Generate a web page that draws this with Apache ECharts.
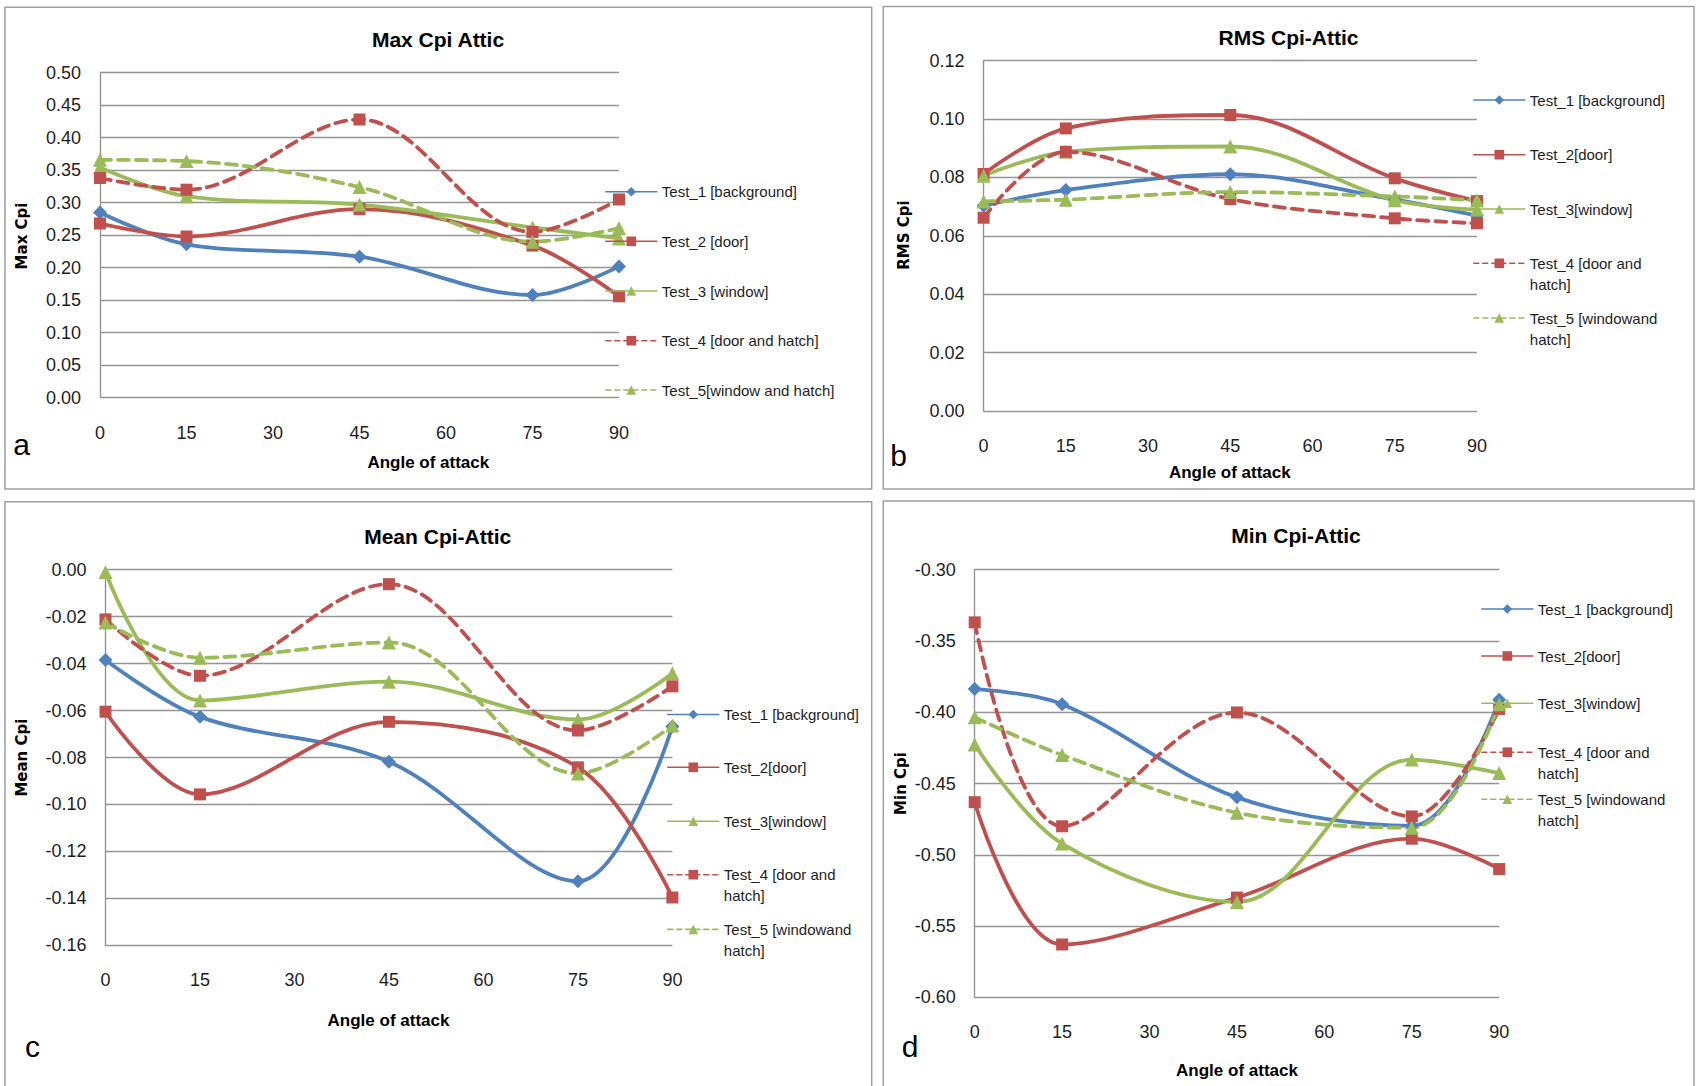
<!DOCTYPE html>
<html>
<head>
<meta charset="utf-8">
<script src="https://cdn.jsdelivr.net/npm/echarts@6/dist/echarts.min.js"></script>
<style>
  html, body { margin: 0; padding: 0; background: #ffffff; }
  #chart { width: 1696px; height: 1086px; }
</style>
</head>
<body>
<div id="chart"></div>
<script>
// Angles of attack where pressures were measured, and the axis ticks
const angles = [0, 15, 45, 75, 90];
const angleTicks = [0, 15, 30, 45, 60, 75, 90];

// (a) Max Cpi
const maxTicks = [0.00, 0.05, 0.10, 0.15, 0.20, 0.25, 0.30, 0.35, 0.40, 0.45, 0.50];
const maxTest1 = [0.285, 0.236, 0.217, 0.158, 0.202];
const maxTest2 = [0.268, 0.248, 0.290, 0.234, 0.156];
const maxTest3 = [0.354, 0.310, 0.297, 0.262, 0.245];
const maxTest4 = [0.338, 0.320, 0.428, 0.255, 0.305];
const maxTest5 = [0.366, 0.364, 0.324, 0.240, 0.261];

// (b) RMS Cpi
const rmsTicks = [0.00, 0.02, 0.04, 0.06, 0.08, 0.10, 0.12];
const rmsTest1 = [0.0703, 0.0757, 0.0811, 0.0724, 0.0669];
const rmsTest2 = [0.0812, 0.0968, 0.1014, 0.0797, 0.0719];
const rmsTest3 = [0.0806, 0.0888, 0.0906, 0.0722, 0.0690];
const rmsTest4 = [0.0662, 0.0888, 0.0726, 0.0660, 0.0643];
const rmsTest5 = [0.0718, 0.0724, 0.0750, 0.0735, 0.0722];

// (c) Mean Cpi
const meanTicks = [-0.16, -0.14, -0.12, -0.10, -0.08, -0.06, -0.04, -0.02, 0.00];
const meanTest1 = [-0.0385, -0.0627, -0.0818, -0.1327, -0.0668];
const meanTest2 = [-0.0605, -0.0957, -0.0648, -0.0842, -0.1396];
const meanTest3 = [-0.0010, -0.0557, -0.0477, -0.0638, -0.0441];
const meanTest4 = [-0.0212, -0.0452, -0.0062, -0.0685, -0.0497];
const meanTest5 = [-0.0225, -0.0375, -0.0310, -0.0868, -0.0664];

// (d) Min Cpi
const minTicks = [-0.60, -0.55, -0.50, -0.45, -0.40, -0.35, -0.30];
const minTest1 = [-0.3838, -0.3944, -0.4597, -0.4797, -0.3912];
const minTest2 = [-0.4631, -0.5629, -0.5300, -0.4887, -0.5100];
const minTest3 = [-0.4227, -0.4921, -0.5331, -0.4332, -0.4427];
const minTest4 = [-0.3370, -0.4800, -0.4002, -0.4731, -0.3977];
const minTest5 = [-0.4036, -0.4300, -0.4705, -0.4810, -0.3944];

// Legend names as printed on each panel
const namesA = ['Test_1 [background]', 'Test_2 [door]', 'Test_3 [window]', 'Test_4 [door and hatch]', 'Test_5[window and hatch]'];
const namesBCD = ['Test_1 [background]', 'Test_2[door]', 'Test_3[window]', 'Test_4 [door and\nhatch]', 'Test_5 [windowand\nhatch]'];

// ---- styling & layout ----
const LABEL_FONT = '"Liberation Sans", Arial, sans-serif';
const GRID_COLOR = '#959595';
const TEXT_COLOR = '#1e1e1e';
const BLUE = '#4F81BD', RED = '#C0504D', GREEN = '#9BBB59';
const DASH = [11, 7];

const seriesLook = [
  { symbol: 'diamond',  symbolSize: 14, color: BLUE,  type: 'solid' },
  { symbol: 'rect',     symbolSize: 12, color: RED,   type: 'solid' },
  { symbol: 'triangle', symbolSize: 14, color: GREEN, type: 'solid' },
  { symbol: 'rect',     symbolSize: 12, color: RED,   type: DASH },
  { symbol: 'triangle', symbolSize: 14, color: GREEN, type: DASH }
];

const panels = [
  { values: [maxTest1, maxTest2, maxTest3, maxTest4, maxTest5], ticks: maxTicks, names: namesA,
    grid: { left: 100, top: 72.7, width: 519, height: 325 },
    legendX: 605, legendY: [192.7, 242.3, 292, 341.7, 391] },
  { values: [rmsTest1, rmsTest2, rmsTest3, rmsTest4, rmsTest5], ticks: rmsTicks, names: namesBCD,
    grid: { left: 983.6, top: 60.7, width: 493.4, height: 350.3 },
    legendX: 1473, legendY: [101, 155.7, 210, 264.3, 319] },
  { values: [meanTest1, meanTest2, meanTest3, meanTest4, meanTest5], ticks: meanTicks, names: namesBCD,
    grid: { left: 105.5, top: 569.6, width: 566.9, height: 375.8 },
    legendX: 667, legendY: [715.5, 768.3, 822.2, 875.7, 930.4] },
  { values: [minTest1, minTest2, minTest3, minTest4, minTest5], ticks: minTicks, names: namesBCD,
    grid: { left: 974.7, top: 569.6, width: 524.5, height: 427.8 },
    legendX: 1481, legendY: [610, 657, 704.2, 753.2, 800.3] }
];

const grids = [], xAxes = [], yAxes = [], series = [], legends = [];

panels.forEach((p, pi) => {
  grids.push(Object.assign({ containLabel: false }, p.grid));
  xAxes.push({
    type: 'value', gridIndex: pi,
    min: angleTicks[0], max: angleTicks[angleTicks.length - 1],
    interval: angleTicks[1] - angleTicks[0],
    axisLine: { show: false }, axisTick: { show: false }, splitLine: { show: false },
    axisLabel: { margin: 26, fontSize: 18, fontFamily: LABEL_FONT, color: TEXT_COLOR }
  });
  yAxes.push({
    type: 'value', gridIndex: pi,
    min: p.ticks[0], max: p.ticks[p.ticks.length - 1],
    interval: +(p.ticks[1] - p.ticks[0]).toFixed(4),
    axisLine: { show: true, onZero: false, lineStyle: { color: GRID_COLOR, width: 1.4 } },
    axisTick: { show: false },
    splitLine: { show: true, lineStyle: { color: GRID_COLOR, width: 1.4 } },
    axisLabel: { margin: 19, fontSize: 18, fontFamily: LABEL_FONT, color: TEXT_COLOR,
                 formatter: v => v.toFixed(2) }
  });
  p.values.forEach((vals, si) => {
    const look = seriesLook[si];
    series.push({
      type: 'line', name: p.names[si], xAxisIndex: pi, yAxisIndex: pi,
      data: angles.map((a, k) => [a, vals[k]]),
      smooth: 0.35,
      symbol: look.symbol, symbolSize: look.symbolSize,
      color: look.color,
      itemStyle: { color: look.color },
      lineStyle: { color: look.color, width: 3.8, type: look.type, cap: 'round' },
      emphasis: { disabled: true },
      animation: false
    });
    // Wrapped names get an empty first line so the icon sits beside the first printed line
    const twoLine = p.names[si].indexOf('\n') >= 0;
    legends.push({
      data: [p.names[si]],
      orient: 'vertical',
      left: p.legendX,
      top: twoLine ? p.legendY[si] - 32.5 : p.legendY[si] - 8.5,
      padding: 0,
      itemWidth: 51, itemHeight: 12,
      selectedMode: false,
      formatter: name => (name.indexOf('\n') >= 0 ? '\n' + name : name),
      lineStyle: { width: 1.6, type: look.type === 'solid' ? 'solid' : [5, 4] },
      textStyle: twoLine
        ? { fontSize: 15, fontFamily: LABEL_FONT, color: TEXT_COLOR, lineHeight: 21 }
        : { fontSize: 15, fontFamily: LABEL_FONT, color: TEXT_COLOR, lineHeight: 12 }
    });
  });
});

// Frames, titles, axis names and panel letters
function label(x, y, text, font, rotation) {
  return { type: 'text', x: x, y: y, rotation: rotation || 0, silent: true,
           style: { text: text, font: font, fill: '#000', align: 'center', verticalAlign: 'middle' } };
}
function frame(x, y, w, h) {
  return { type: 'rect', silent: true, shape: { x: x, y: y, width: w, height: h },
           style: { fill: 'none', stroke: '#a0a0a0', lineWidth: 1.5 } };
}
const TITLE_FONT = 'bold 21px "Liberation Sans", Arial, sans-serif';
const XNAME_FONT = 'bold 17px "Liberation Sans", Arial, sans-serif';
const YNAME_FONT = 'bold 15px "DejaVu Sans", Verdana, sans-serif';
const LETTER_FONT = '30px "Liberation Sans", Arial, sans-serif';
const graphics = [
  frame(5, 7.3, 866.7, 481.7),
  frame(883.3, 6.5, 810.7, 482.5),
  frame(5, 501.7, 866.7, 620),
  frame(883.3, 501, 810.7, 620),
  label(438, 39.5, 'Max Cpi Attic', TITLE_FONT),
  label(1288.5, 37.8, 'RMS Cpi-Attic', TITLE_FONT),
  label(437.7, 536, 'Mean Cpi-Attic', TITLE_FONT),
  label(1296, 535.5, 'Min Cpi-Attic', TITLE_FONT),
  label(428.3, 462, 'Angle of attack', XNAME_FONT),
  label(1229.8, 472.5, 'Angle of attack', XNAME_FONT),
  label(388.5, 1020.5, 'Angle of attack', XNAME_FONT),
  label(1237, 1070.5, 'Angle of attack', XNAME_FONT),
  label(22, 236, 'Max Cpi', YNAME_FONT, Math.PI / 2),
  label(904, 235, 'RMS Cpi', YNAME_FONT, Math.PI / 2),
  label(21.7, 757.6, 'Mean Cpi', YNAME_FONT, Math.PI / 2),
  label(900.8, 783.5, 'Min Cpi', YNAME_FONT, Math.PI / 2),
  label(21.5, 444.6, 'a', LETTER_FONT),
  label(898.7, 455.3, 'b', LETTER_FONT),
  label(32.5, 1046.2, 'c', LETTER_FONT),
  label(910, 1046.2, 'd', LETTER_FONT)
];

const chart = echarts.init(document.getElementById('chart'), null, { renderer: 'svg' });
chart.setOption({
  backgroundColor: '#ffffff',
  animation: false,
  grid: grids,
  xAxis: xAxes,
  yAxis: yAxes,
  legend: legends,
  series: series,
  graphic: graphics
});
</script>
</body>
</html>
